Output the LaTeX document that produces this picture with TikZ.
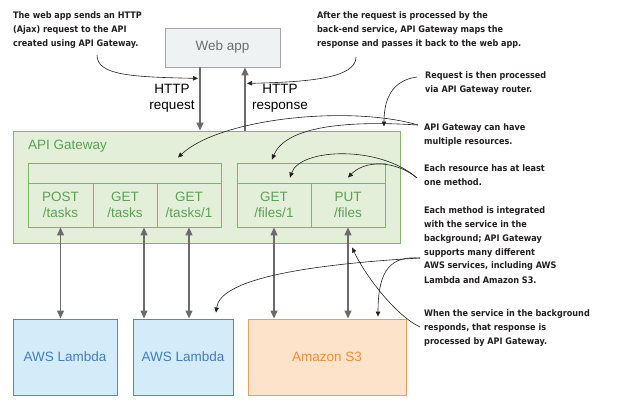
\documentclass[tikz,border=0pt]{standalone}
\usepackage{fontspec}
\setmainfont{Liberation Sans}
\newfontfamily\notefont{DejaVu Sans Condensed}
\usetikzlibrary{arrows.meta}

\definecolor{webfill}{HTML}{EEF2F2}
\definecolor{webline}{HTML}{A6A6A6}
\definecolor{webtext}{HTML}{6E6E6E}
\definecolor{gwfill}{HTML}{E3EFD9}
\definecolor{gwline}{HTML}{82B366}
\definecolor{gwtext}{HTML}{5BA154}
\definecolor{lamfill}{HTML}{D4EBF9}
\definecolor{lamline}{HTML}{4A8BCB}
\definecolor{lamtext}{HTML}{3F7FC0}
\definecolor{sthreefill}{HTML}{FCE3C9}
\definecolor{sthreeline}{HTML}{F39C55}
\definecolor{sthreetext}{HTML}{F28C38}
\definecolor{flowgray}{HTML}{6B6B6B}
\definecolor{notecol}{HTML}{231F20}

\begin{document}
\begin{tikzpicture}[x=1pt, y=-1pt,
        boxfont/.style={font=\fontsize{13.5}{16.5}\selectfont},
        webbox/.style={draw=webline, fill=webfill, text=webtext, line width=0.8pt, boxfont},
        gwbox/.style={draw=gwline, fill=gwfill, line width=0.9pt},
        cell/.style={draw=gwline, fill=gwfill, text=gwtext, line width=0.9pt, align=center, boxfont},
        lambox/.style={draw=lamline, fill=lamfill, text=lamtext, line width=0.9pt, boxfont},
        sthreebox/.style={draw=sthreeline, fill=sthreefill, text=sthreetext, line width=0.9pt, boxfont},
        flow/.style={draw=flowgray, line width=1.3pt, -{Triangle[width=7pt,length=8pt]}},
        link/.style={draw=flowgray, line width=1.3pt, {Triangle[width=7pt,length=8pt]}-{Triangle[width=7pt,length=8pt]}},
        note/.style={text=notecol, align=left, inner sep=0pt, anchor=base west,
            font=\notefont\bfseries\fontsize{9}{14}\selectfont},
        pointer/.style={draw=notecol, line width=0.6pt, -{Triangle[width=4.5pt,length=5pt]}}]
        \useasboundingbox (0,0) rectangle (619,409);

        % web app and gateway
        \node[webbox, minimum width=115pt, minimum height=39pt] (webapp) at (222.5,47.5) {Web app};
        \node[gwbox, minimum width=387pt, minimum height=112pt] (apigw) at (206.5,187) {};
        \node[boxfont, text=gwtext, inner sep=0pt, anchor=base west] (gwlabel) at (28,149.5) {API Gateway};

        % resources and methods
        \node[cell, minimum width=193pt, minimum height=20pt] (lefthdr) at (124.5,173) {};
        \node[cell, minimum width=65pt, minimum height=44pt] (post) at (60.5,205) {POST\\/tasks};
        \node[cell, minimum width=64pt, minimum height=44pt] (gettasks) at (125,205) {GET\\/tasks};
        \node[cell, minimum width=64pt, minimum height=44pt] (gettask1) at (189,205) {GET\\/tasks/1};
        \node[cell, minimum width=148pt, minimum height=20pt] (righthdr) at (311,173) {};
        \node[cell, minimum width=74pt, minimum height=44pt] (getfile) at (274,205) {GET\\/files/1};
        \node[cell, minimum width=74pt, minimum height=44pt] (putfiles) at (348,205) {PUT\\/files};

        % services
        \node[lambox, minimum width=104pt, minimum height=76pt] (lambda1) at (65,357) {AWS Lambda};
        \node[lambox, minimum width=100pt, minimum height=76pt] (lambda2) at (183,357) {AWS Lambda};
        \node[sthreebox, minimum width=158pt, minimum height=76pt] (s3) at (327,357) {Amazon S3};

        % http request and response
        \draw[flow] ([xshift=-22.5pt]webapp.south) -- ([xshift=-22.5pt]webapp.south |- apigw.north);
        \draw[flow] ([xshift=22.5pt]webapp.south |- apigw.north) -- ([xshift=22.5pt]webapp.south);
        \node[boxfont, align=center] (reqlabel) at (172,98.5) {HTTP\\request};
        \node[boxfont, align=center] (resplabel) at (280,98.5) {HTTP\\response};

        % methods to services
        \draw[link] (post.south) -- (post.south |- lambda1.north);
        \draw[link] ([xshift=19pt]gettasks.south) -- ([xshift=19pt]gettasks.south |- lambda2.north);
        \draw[link] (gettask1.south) -- (gettask1.south |- lambda2.north);
        \draw[link] (getfile.south) -- (getfile.south |- s3.north);
        \draw[link] (putfiles.south) -- (putfiles.south |- s3.north);

        % notes (base is the last line)
        \node[note] (webnote) at (13,46.5) {The web app sends an HTTP\\(Ajax) request to the API\\created using API Gateway.};
        \node[note] (backnote) at (317,46.5) {After the request is processed by the\\back-end service, API Gateway maps the\\response and passes it back to the web app.};
        \node[note] (routernote) at (425,93) {Request is then processed\\via API Gateway router.};
        \node[note] (resnote) at (424,145) {API Gateway can have\\multiple resources.};
        \node[note] (methnote) at (424,185.5) {Each resource has at least\\one method.};
        \node[note] (integnote) at (424,283) {Each method is integrated\\with the service in the\\background; API Gateway\\supports many different\\AWS services, including AWS\\Lambda and Amazon S3.};
        \node[note] (respnote) at (424,344.5) {When the service in the background\\responds, that response is\\processed by API Gateway.};

        % pointer lines
        \coordinate (webfrom) at (97,55);
        \coordinate (backfrom) at (356,57);
        \coordinate (routerfrom) at (417,77);
        \coordinate (resfrom) at (418,125);
        \coordinate (methfrom) at (417,178);
        \coordinate (integfrom) at (420,258);
        \coordinate (respfrom) at (420,327);
        \draw[pointer] (webfrom) .. controls (97,75) and (130,77) .. ([shift={(-24.5,11)}]webapp.south);
        \draw[pointer] (backfrom) .. controls (356,78) and (310,82) .. ([shift={(24.5,16)}]webapp.south);
        \draw[pointer] (routerfrom) .. controls (395,80) and (384,95) .. ([shift={(177.5,-4)}]apigw.north);
        \draw[pointer] (resfrom) .. controls (350,105) and (220,118) .. ([shift={(53.5,-5)}]lefthdr.north);
        \draw[pointer] (resfrom) .. controls (340,120) and (285,128) .. ([shift={(-39,-3)}]righthdr.north);
        \draw[pointer] (methfrom) .. controls (380,145) and (300,148) .. ([shift={(16,-5)}]getfile.north);
        \draw[pointer] (methfrom) .. controls (395,160) and (365,160) .. ([shift={(0,-5)}]putfiles.north);
        \draw[pointer] (integfrom) .. controls (300,265) and (220,280) .. ([shift={(33,-6)}]lambda2.north);
        \draw[pointer] (integfrom) .. controls (392,256) and (378,268) .. ([shift={(51,-2)}]s3.north);
        \draw[pointer] (respfrom) .. controls (395,315) and (365,275) .. ([shift={(145.5,4)}]apigw.south);
    \end{tikzpicture}
\end{document}
